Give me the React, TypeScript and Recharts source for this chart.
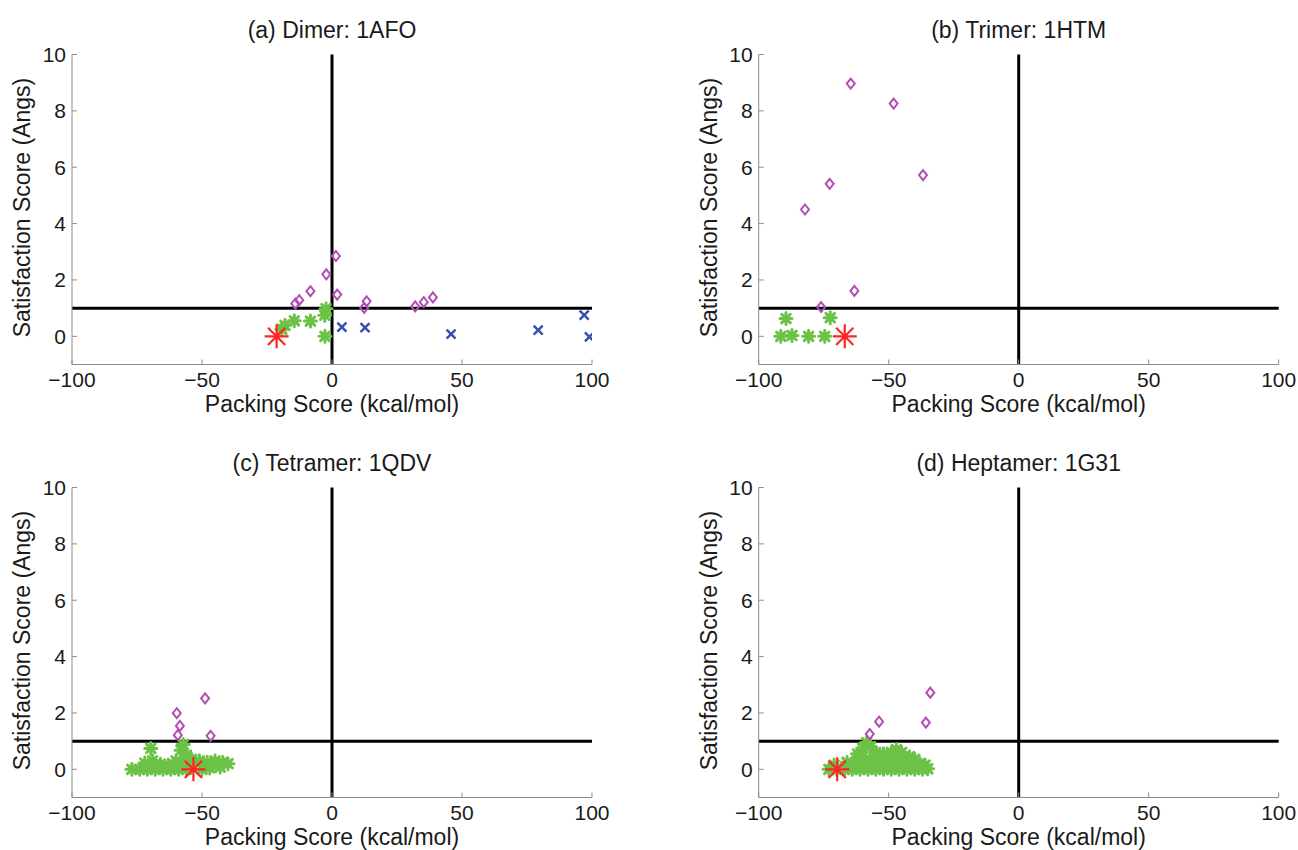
import { ScatterChart, Scatter, XAxis, YAxis, ReferenceLine } from 'recharts'

type Pt = { x: number; y: number }

const xTicks = [-100, -50, 0, 50, 100]
const yTicks = [0, 2, 4, 6, 8, 10]

// (a) Dimer: 1AFO
const dimerDiamonds: Pt[] = [
  { x: 1.5, y: 2.85 }, { x: -2.2, y: 2.2 }, { x: -8.3, y: 1.6 }, { x: -12.6, y: 1.28 },
  { x: -14.1, y: 1.16 }, { x: 2.0, y: 1.48 }, { x: 13.3, y: 1.24 }, { x: 12.4, y: 1.01 },
  { x: 32.0, y: 1.06 }, { x: 35.3, y: 1.21 }, { x: 38.8, y: 1.38 },
]
const dimerStars: Pt[] = [
  { x: -2.3, y: 0.98 }, { x: -2.8, y: 0.75 }, { x: -8.3, y: 0.54 }, { x: -14.5, y: 0.55 },
  { x: -18.1, y: 0.39 }, { x: -19.3, y: 0.25 }, { x: -2.7, y: 0 },
]
const dimerCrosses: Pt[] = [
  { x: 3.8, y: 0.33 }, { x: 12.7, y: 0.31 }, { x: 45.8, y: 0.08 }, { x: 79.3, y: 0.22 },
  { x: 97, y: 0.75 }, { x: 99, y: -0.02 },
]
const dimerNative: Pt[] = [{ x: -21.3, y: 0 }]

// (b) Trimer: 1HTM
const trimerDiamonds: Pt[] = [
  { x: -64.6, y: 8.97 }, { x: -48.1, y: 8.26 }, { x: -36.8, y: 5.72 }, { x: -72.7, y: 5.41 },
  { x: -82.2, y: 4.5 }, { x: -63.2, y: 1.61 }, { x: -76.0, y: 1.04 },
]
const trimerStars: Pt[] = [
  { x: -89.5, y: 0.63 }, { x: -72.5, y: 0.66 }, { x: -91.5, y: 0 }, { x: -87.2, y: 0.03 },
  { x: -80.8, y: 0 }, { x: -74.6, y: 0 },
]
const trimerNative: Pt[] = [{ x: -66.9, y: 0 }]

// (c) Tetramer: 1QDV
const tetramerDiamonds: Pt[] = [
  { x: -48.8, y: 2.52 }, { x: -59.7, y: 1.99 }, { x: -58.5, y: 1.54 }, { x: -59.3, y: 1.21 },
  { x: -46.7, y: 1.19 },
]
const tetramerStars: Pt[] = [
  { x: -69.7, y: 0.74 }, { x: -58.1, y: 0.68 }, { x: -57.2, y: 0.88 }, { x: -56, y: 0.5 },
  { x: -77, y: 0 }, { x: -74, y: 0 }, { x: -71, y: 0 }, { x: -68, y: 0 }, { x: -65, y: 0 },
  { x: -62, y: 0 }, { x: -59, y: 0 }, { x: -56, y: 0 }, { x: -50, y: 0 }, { x: -47, y: 0.05 },
  { x: -72, y: 0.22 }, { x: -69, y: 0.3 }, { x: -66, y: 0.18 }, { x: -63, y: 0.15 },
  { x: -60, y: 0.3 }, { x: -57, y: 0.25 }, { x: -54, y: 0.35 }, { x: -51, y: 0.3 },
  { x: -48, y: 0.25 }, { x: -45, y: 0.3 }, { x: -42, y: 0.25 }, { x: -40, y: 0.2 },
  { x: -43, y: 0.08 }, { x: -46, y: 0.15 },
]
const tetramerNative: Pt[] = [{ x: -53.3, y: 0 }]

// (d) Heptamer: 1G31
const heptamerDiamonds: Pt[] = [
  { x: -34, y: 2.72 }, { x: -35.7, y: 1.66 }, { x: -53.7, y: 1.69 }, { x: -57.3, y: 1.25 },
]
const heptamerStars: Pt[] = [
  { x: -73, y: 0 }, { x: -70, y: 0 }, { x: -67, y: 0 }, { x: -64, y: 0 }, { x: -61, y: 0 },
  { x: -58, y: 0 }, { x: -55, y: 0 }, { x: -52, y: 0 }, { x: -49, y: 0 }, { x: -46, y: 0 },
  { x: -43, y: 0 }, { x: -40, y: 0 }, { x: -37, y: 0 }, { x: -35, y: 0.02 },
  { x: -71, y: 0.15 }, { x: -66, y: 0.25 }, { x: -62, y: 0.3 }, { x: -59, y: 0.35 },
  { x: -56, y: 0.3 }, { x: -53, y: 0.25 }, { x: -50, y: 0.3 }, { x: -47, y: 0.35 },
  { x: -44, y: 0.3 }, { x: -41, y: 0.25 }, { x: -38, y: 0.2 }, { x: -36, y: 0.15 },
  { x: -62, y: 0.55 }, { x: -60, y: 0.75 }, { x: -58.5, y: 0.95 }, { x: -57, y: 0.8 },
  { x: -55, y: 0.6 }, { x: -52, y: 0.55 }, { x: -49, y: 0.6 }, { x: -47, y: 0.7 },
  { x: -45, y: 0.6 }, { x: -42, y: 0.45 }, { x: -40, y: 0.35 }, { x: -60, y: 0.45 },
]
const heptamerNative: Pt[] = [{ x: -69.8, y: 0 }]

const FONT = '"Liberation Sans", Arial, Helvetica, sans-serif'
const AXIS_GREY = '#8c8c8c'
const TEXT = '#1a1a1a'

const diamondShape = (p: any) => {
  const { cx, cy } = p
  return (
    <path
      d={`M${cx},${cy - 5} L${cx + 4},${cy} L${cx},${cy + 5} L${cx - 4},${cy} Z`}
      fill="none"
      stroke="#b34db5"
      strokeWidth={2}
    />
  )
}

const crossShape = (p: any) => {
  const { cx, cy } = p
  const r = 4.5
  return (
    <path
      d={`M${cx - r},${cy - r} L${cx + r},${cy + r} M${cx - r},${cy + r} L${cx + r},${cy - r}`}
      stroke="#3a4fb0"
      strokeWidth={2.5}
    />
  )
}

const starPath = (cx: number, cy: number, r: number) => {
  const d = r * 0.72
  return `M${cx - r},${cy} L${cx + r},${cy} M${cx},${cy - r} L${cx},${cy + r} M${cx - d},${cy - d} L${cx + d},${cy + d} M${cx - d},${cy + d} L${cx + d},${cy - d}`
}

const greenShape = (p: any) => (
  <path d={starPath(p.cx, p.cy, 6)} stroke="#6cc247" strokeWidth={3} strokeLinecap="round" />
)

const redShape = (p: any) => (
  <path d={starPath(p.cx, p.cy, 12)} stroke="#ff2525" strokeWidth={2.2} />
)

const fmt = (v: number) => (v < 0 ? `\u2212${-v}` : `${v}`)

const Y_GAP = 6
const X_GAP = 15
const TICK_FS = 21

// ticks point into the plot, MATLAB style
const YTick = (p: any) => {
  const { x, y, payload } = p
  const ax = x + Y_GAP
  return (
    <g>
      <line x1={ax} x2={ax + 5} y1={y} y2={y} stroke={AXIS_GREY} />
      <text x={x} y={y} textAnchor="end" dominantBaseline="central" fontSize={TICK_FS} fontFamily={FONT} fill={TEXT}>
        {fmt(payload.value)}
      </text>
    </g>
  )
}

const XTick = (p: any) => {
  const { x, y, payload } = p
  const ay = y - X_GAP
  return (
    <g>
      <line x1={x} x2={x} y1={ay} y2={ay - 5} stroke={AXIS_GREY} />
      <text x={x} y={y} textAnchor="middle" dominantBaseline="central" fontSize={TICK_FS} fontFamily={FONT} fill={TEXT}>
        {fmt(payload.value)}
      </text>
    </g>
  )
}

interface PanelProps {
  left: number
  top: number
  plotLeft: number
  title: string
  diamonds: Pt[]
  stars: Pt[]
  crosses?: Pt[]
  native: Pt[]
}

const W = 649
const H = 433
const PLOT_W = 520
const PLOT_TOP = 54.5
const PLOT_H = 310
const Y_AXIS_W = 50
const X_AXIS_H = 40
const LABEL_FS = 23

function Panel({ left, top, plotLeft, title, diamonds, stars, crosses, native }: PanelProps) {
  const cx = plotLeft + PLOT_W / 2
  const labelStyle = {
    position: 'absolute' as const, width: 400, textAlign: 'center' as const, fontFamily: FONT,
    fontSize: LABEL_FS, color: TEXT, lineHeight: '23px', whiteSpace: 'nowrap' as const,
  }
  return (
    <div style={{ position: 'absolute', left, top, width: W, height: H }}>
      <ScatterChart
        width={W}
        height={H}
        margin={{
          top: PLOT_TOP,
          left: plotLeft - Y_AXIS_W,
          right: W - plotLeft - PLOT_W,
          bottom: H - PLOT_TOP - PLOT_H - X_AXIS_H,
        }}
      >
        <XAxis
          type="number"
          dataKey="x"
          domain={[-100, 100]}
          ticks={xTicks}
          allowDataOverflow
          height={X_AXIS_H}
          tickSize={0}
          tickMargin={X_GAP}
          tick={XTick}
          tickLine={false}
          axisLine={{ stroke: AXIS_GREY }}
        />
        <YAxis
          type="number"
          dataKey="y"
          domain={[-1, 10]}
          ticks={yTicks}
          allowDataOverflow
          width={Y_AXIS_W}
          tickSize={0}
          tickMargin={Y_GAP}
          tick={YTick}
          tickLine={false}
          axisLine={{ stroke: AXIS_GREY }}
        />
        <ReferenceLine y={1} stroke="#000" strokeWidth={3} />
        <ReferenceLine x={0} stroke="#000" strokeWidth={3} />
        <Scatter data={stars} shape={greenShape} isAnimationActive={false} />
        <Scatter data={diamonds} shape={diamondShape} isAnimationActive={false} />
        {crosses && <Scatter data={crosses} shape={crossShape} isAnimationActive={false} />}
        <Scatter data={native} shape={redShape} isAnimationActive={false} />
      </ScatterChart>
      <div style={{ ...labelStyle, left: cx - 200, top: 19 }}>{title}</div>
      <div style={{ ...labelStyle, left: cx - 200, top: PLOT_TOP + PLOT_H + 28 }}>
        Packing Score (kcal/mol)
      </div>
      <div
        style={{
          ...labelStyle,
          left: plotLeft - 50 - 200,
          top: PLOT_TOP + PLOT_H / 2 - 14,
          transform: 'rotate(-90deg)',
        }}
      >
        Satisfaction Score (Angs)
      </div>
    </div>
  )
}

export default function App() {
  return (
    <div style={{ position: 'absolute', left: 0, top: 0, width: 1298, height: 850, background: '#fff' }}>
      <Panel left={0} top={0} plotLeft={72} title="(a) Dimer: 1AFO"
        diamonds={dimerDiamonds} stars={dimerStars} crosses={dimerCrosses} native={dimerNative} />
      <Panel left={649} top={0} plotLeft={109.7} title="(b) Trimer: 1HTM"
        diamonds={trimerDiamonds} stars={trimerStars} native={trimerNative} />
      <Panel left={0} top={433} plotLeft={72} title="(c) Tetramer: 1QDV"
        diamonds={tetramerDiamonds} stars={tetramerStars} native={tetramerNative} />
      <Panel left={649} top={433} plotLeft={109.7} title="(d) Heptamer: 1G31"
        diamonds={heptamerDiamonds} stars={heptamerStars} native={heptamerNative} />
    </div>
  )
}
